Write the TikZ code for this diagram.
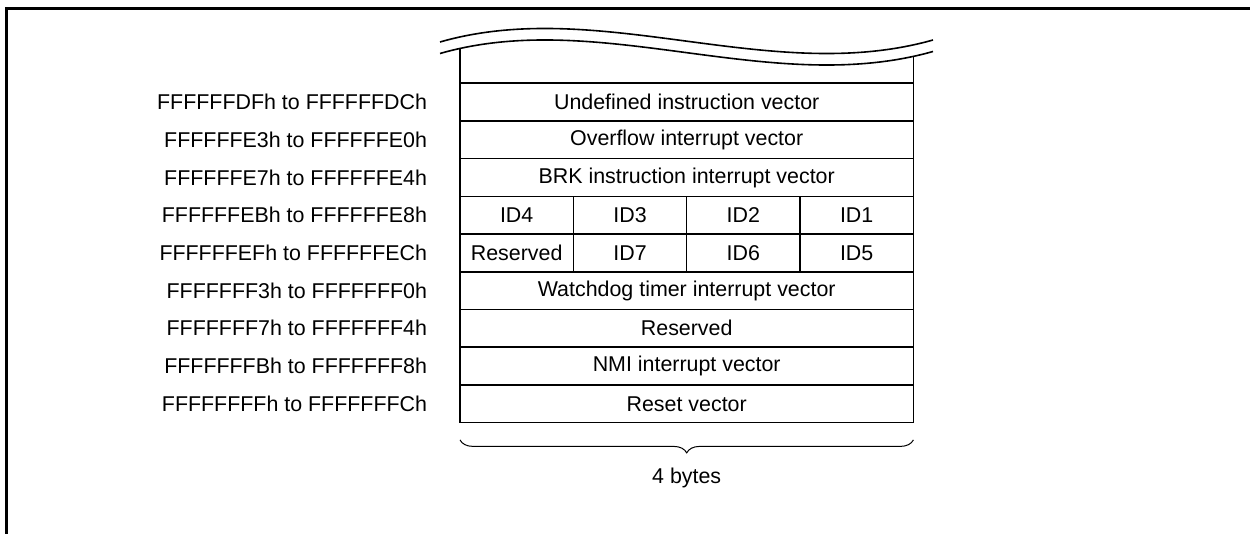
\documentclass[tikz,border=0pt]{standalone}
\usepackage{fontspec}
\setmainfont{Liberation Sans}
\usetikzlibrary{positioning, decorations.pathreplacing}

\begin{document}
\begin{tikzpicture}[x=0.5pt, y=-0.5pt, node distance=0pt]

	% --- STYLES ---
	\tikzstyle{row} = [rectangle, draw=black, line width=0.8pt, minimum width=226.7pt, minimum height=18.85pt, inner sep=0pt, outer sep=0pt, align=center, font=\fontsize{10.7}{12}\selectfont]
	\tikzstyle{cell} = [row, minimum width=56.67pt]
	\tikzstyle{addr} = [inner sep=0pt, outer sep=0pt, font=\fontsize{10.7}{12}\selectfont]
	\tikzstyle{wave} = [line width=0.8pt]
	\tikzstyle{bracket} = [decorate, decoration={brace, mirror, amplitude=6.5pt}, line width=0.5pt]

	% --- FRAME ---
	\useasboundingbox (0,0) rectangle (1250,534);
	\draw[line width=1.5pt] (6.2,534) -- (6.2,8.5) -- (1250,8.5);

	% --- VECTOR ROWS ---
	\node (undef) [row, anchor=north west] at (460,83.3) {Undefined instruction vector};
	\node (ovf) [row, below=of undef] {Overflow interrupt vector};
	\node (brk) [row, below=of ovf] {BRK instruction interrupt vector};

	% ID bytes
	\node (id4) [cell, anchor=north west] at (brk.south west) {ID4};
	\node (id3) [cell, right=of id4] {ID3};
	\node (id2) [cell, right=of id3] {ID2};
	\node (id1) [cell, right=of id2] {ID1};
	\node (rsvb) [cell, below=of id4] {Reserved};
	\node (id7) [cell, right=of rsvb] {ID7};
	\node (id6) [cell, right=of id7] {ID6};
	\node (id5) [cell, right=of id6] {ID5};

	\node (wdt) [row, anchor=north west] at (rsvb.south west) {Watchdog timer interrupt vector};
	\node (rsv) [row, below=of wdt] {Reserved};
	\node (nmi) [row, below=of rsv] {NMI interrupt vector};
	\node (reset) [row, below=of nmi] {Reset vector};

	% --- ADDRESSES ---
	\node (a1) [addr, left=16.5pt of undef] {FFFFFFDFh to FFFFFFDCh};
	\node (a2) [addr, left=16.5pt of ovf] {FFFFFFE3h to FFFFFFE0h};
	\node (a3) [addr, left=16.5pt of brk] {FFFFFFE7h to FFFFFFE4h};
	\node (a4) [addr, left=16.5pt of id4] {FFFFFFEBh to FFFFFFE8h};
	\node (a5) [addr, left=16.5pt of rsvb] {FFFFFFEFh to FFFFFFECh};
	\node (a6) [addr, left=16.5pt of wdt] {FFFFFFF3h to FFFFFFF0h};
	\node (a7) [addr, left=16.5pt of rsv] {FFFFFFF7h to FFFFFFF4h};
	\node (a8) [addr, left=16.5pt of nmi] {FFFFFFFBh to FFFFFFF8h};
	\node (a9) [addr, left=16.5pt of reset] {FFFFFFFFh to FFFFFFFCh};

	% --- BREAK LINES (top) ---
	\draw[wave] (440,42) .. controls (600,-4) and (770,86) .. (933,40);
	\draw[wave] (440,53.5) .. controls (600,7.5) and (770,97.5) .. (933,51.5);
	\draw[wave] (undef.north west) -- ++(0,-34.6);
	\draw[wave] (undef.north east) -- ++(0,-27.5);

	% --- WIDTH BRACE ---
	\draw[bracket] ([yshift=-8.65pt]reset.south west) -- ([yshift=-8.65pt]reset.south east)
		node (bytes) [addr, midway, below=14pt] {4 bytes};

\end{tikzpicture}
\end{document}
